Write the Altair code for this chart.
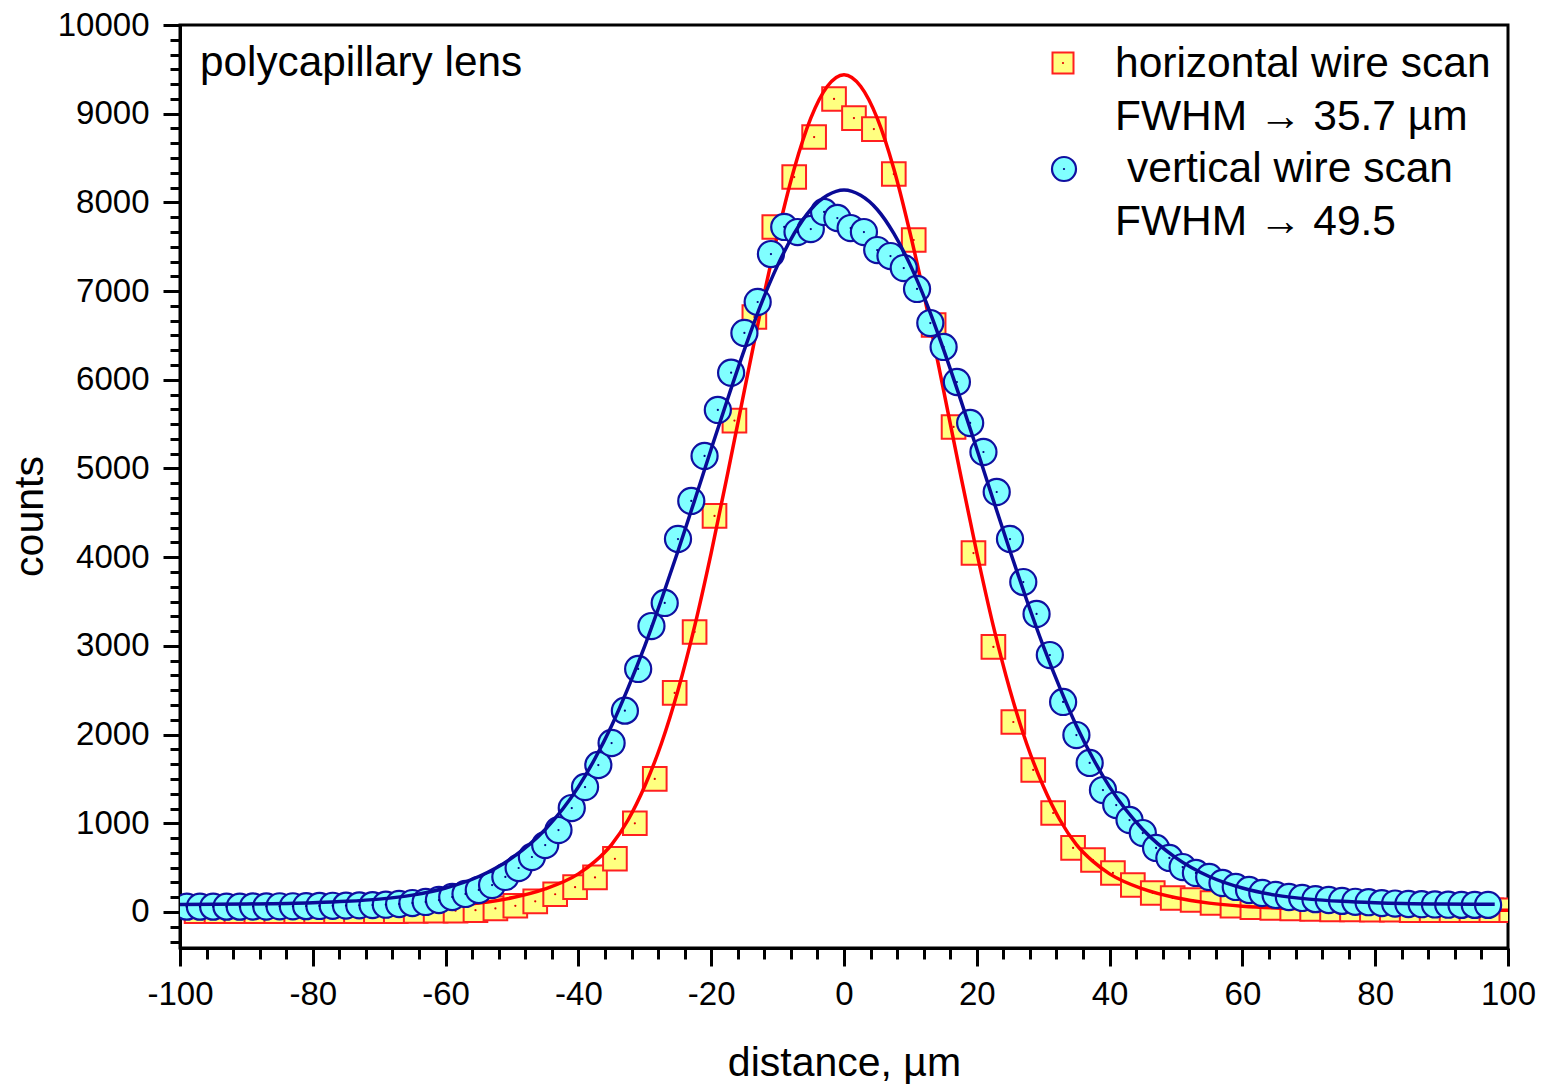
import altair as alt
import pandas as pd

FONT = "Liberation Sans"

# ---------------- data ----------------
# vertical wire scan (circles)
circle_x = list(range(-99, 98, 2))
circle_y = [60, 60, 60, 60, 60, 62, 62, 64, 64, 66, 68, 70, 72, 75, 78,
            82, 90, 101, 113, 135, 169, 203, 248, 304, 395,
            496, 620, 755, 924, 1172, 1409, 1657, 1905, 2270, 2740,
            3224, 3484, 4205, 4634, 5141, 5660, 6080, 6528, 6877, 7418,
            7723, 7666, 7700, 7892, 7824,
            7711, 7666, 7463, 7395, 7260,
            7024, 6640, 6370, 5975, 5513, 5186, 4735, 4205, 3720, 3360,
            2897, 2368, 1995, 1680, 1375, 1206, 1037, 890, 722, 609,
            507, 440, 395, 327, 282, 248, 214, 192, 169, 158,
            145, 135, 125, 115, 110, 100, 95, 90, 88, 85,
            82, 80, 80, 80]

# horizontal wire scan (squares)
square_x = [-97.5, -94.5, -91.5, -88.5, -85.5, -82.5, -79.5, -76.5, -73.5, -70.5,
            -67.5, -64.5, -61.5, -58.5, -55.5, -52.5, -49.5, -46.5, -43.5, -40.5,
            -37.5, -34.5, -31.5, -28.5, -25.5, -22.5, -19.5, -16.5, -13.5, -10.5,
            -7.5, -4.5, -1.5, 1.5, 4.5, 7.5, 10.5, 13.5, 16.5, 19.5,
            22.5, 25.5, 28.5, 31.5, 34.5, 37.5, 40.5, 43.5, 46.5, 49.5,
            52.5, 55.5, 58.5, 61.5, 64.5, 67.5, 70.5, 73.5, 76.5, 79.5,
            82.5, 85.5, 88.5, 91.5, 94.5, 97.5, 100.5]
square_y = [10, 10, 10, 10, 10, 10, 10, 10, 10, 10,
            10, 12, 15, 15, 20, 40, 70, 120, 200, 280,
            390, 600, 1000, 1500, 2470, 3157, 4465, 5540, 6708, 7723,
            8286, 8737, 9166, 8951, 8827, 8320, 7576, 6618, 5468, 4047,
            2988, 2142, 1601, 1116, 722, 586, 440, 304, 214, 158,
            135, 101, 70, 55, 45, 40, 35, 30, 30, 25,
            25, 20, 20, 20, 20, 20, 20]

# fitted curves
red_x = [-100, -90, -80, -70, -65, -60, -55, -50, -45, -40, -37.5, -35, -32.5, -30,
         -27.5, -25, -22.5, -20, -17.5, -15, -12.5, -10, -7.5, -5, -2.5, 0,
         2.5, 5, 7.5, 10, 12.5, 15, 17.5, 20, 22.5, 25, 27.5, 30, 32.5, 35,
         37.5, 40, 45, 50, 55, 60, 65, 70, 80, 90, 100]
red_y = [20, 20, 25, 35, 45, 65, 100, 160, 260, 430, 570, 760, 1040, 1420,
         1900, 2500, 3220, 4050, 4950, 5880, 6800, 7640, 8380, 8950, 9310, 9440,
         9310, 8950, 8380, 7640, 6800, 5880, 4950, 4050, 3220, 2500, 1900, 1420, 1040, 760,
         570, 430, 260, 160, 100, 65, 45, 35, 25, 20, 20]

blue_x = [-100, -90, -80, -75, -70, -65, -60, -55, -50, -45, -40, -37.5, -35, -32.5, -30,
          -27.5, -25, -22.5, -20, -17.5, -15, -12.5, -10, -7.5, -5, -2.5, 0,
          2.5, 5, 7.5, 10, 12.5, 15, 17.5, 20, 22.5, 25, 27.5, 30, 32.5, 35,
          37.5, 40, 45, 50, 55, 60, 65, 70, 75, 80, 90, 98]
blue_y = [85, 90, 105, 120, 145, 190, 270, 400, 610, 930, 1410, 1730, 2100, 2530, 3000,
          3520, 4070, 4640, 5220, 5790, 6340, 6850, 7290, 7650, 7920, 8080, 8140,
          8080, 7920, 7650, 7290, 6850, 6340, 5790, 5220, 4640, 4070, 3520, 3000, 2530, 2100,
          1730, 1410, 930, 610, 400, 270, 190, 145, 120, 105, 90, 86]

x_major = [-100, -80, -60, -40, -20, 0, 20, 40, 60, 80, 100]
y_major = [0, 1000, 2000, 3000, 4000, 5000, 6000, 7000, 8000, 9000, 10000]
x_minor = [v for v in range(-100, 101, 4) if v % 20 != 0]
y_minor = [k * 1000 / 6 for k in range(-2, 60) if k % 6 != 0]

X_DOMAIN = [-100, 100]
Y_DOMAIN = [-406, 10000]

sq_df = pd.DataFrame({"x": square_x, "y": square_y})
ci_df = pd.DataFrame({"x": circle_x, "y": circle_y})
red_df = pd.DataFrame({"x": red_x, "y": red_y})
blue_df = pd.DataFrame({"x": blue_x, "y": blue_y})
one = pd.DataFrame({"a": [0]})

x_scale = alt.Scale(domain=X_DOMAIN, nice=False, zero=False)
y_scale = alt.Scale(domain=Y_DOMAIN, nice=False, zero=False)

x_axis = alt.Axis(values=x_major, title="distance, µm", labelExpr="datum.value",
                  tickSize=18, tickWidth=3, domainWidth=3, labelFontSize=33,
                  titleFontSize=41, labelPadding=12, titleFontWeight="normal",
                  titleY=127, titleBaseline="alphabetic", grid=False,
                  labelFont=FONT, titleFont=FONT, domainColor="black",
                  tickColor="black", labelColor="black", titleColor="black",
                  labelFlush=False, labelOverlap=False)
y_axis = alt.Axis(values=y_major, title="counts", labelExpr="datum.value",
                  tickSize=17, tickWidth=3, domainWidth=3, labelFontSize=33,
                  titleFontSize=41, labelPadding=14, titleFontWeight="normal",
                  titleX=-129, titleY=491, grid=False,
                  labelFont=FONT, titleFont=FONT, domainColor="black",
                  tickColor="black", labelColor="black", titleColor="black",
                  labelFlush=False, labelOverlap=False)

X = alt.X("x:Q", scale=x_scale, axis=x_axis)
Y = alt.Y("y:Q", scale=y_scale, axis=y_axis)

squares = alt.Chart(sq_df).mark_point(shape="square", filled=True, size=560,
                                      fill="#FFFF80", stroke="#FF2020",
                                      strokeWidth=2, opacity=1, clip=True).encode(x=X, y=Y)
sq_dots = alt.Chart(sq_df).mark_circle(size=5, color="#E00000", opacity=1, clip=True).encode(x=X, y=Y)
red_line = alt.Chart(red_df).mark_line(color="#FF0000", strokeWidth=3.5,
                                       interpolate="monotone").encode(x=X, y=Y)
circles = alt.Chart(ci_df).mark_point(shape="circle", filled=True, size=680,
                                      fill="#80FFFF", stroke="#1010A0",
                                      strokeWidth=2.2, opacity=1, clip=True).encode(x=X, y=Y)
ci_dots = alt.Chart(ci_df).mark_circle(size=5, color="#000080", opacity=1, clip=True).encode(x=X, y=Y)
blue_line = alt.Chart(blue_df).mark_line(color="#0A0A96", strokeWidth=3.5,
                                         interpolate="monotone").encode(x=X, y=Y)

# legend & annotation
def txt(text, x, y, size=42.5):
    return alt.Chart(one).mark_text(text=text, font=FONT, fontSize=size, align="left",
                                    baseline="alphabetic", color="black").encode(
        x=alt.value(x), y=alt.value(y))

leg_sq = alt.Chart(one).mark_point(shape="square", filled=True, size=441, fill="#FFFF80",
                                   stroke="#FF2020", strokeWidth=2, opacity=1).encode(
    x=alt.value(883), y=alt.value(38))
leg_sq_dot = alt.Chart(one).mark_circle(size=5, color="#E00000", opacity=1).encode(
    x=alt.value(883), y=alt.value(38))
leg_ci = alt.Chart(one).mark_point(shape="circle", filled=True, size=576, fill="#80FFFF",
                                   stroke="#1010A0", strokeWidth=2.2, opacity=1).encode(
    x=alt.value(884), y=alt.value(144))
leg_ci_dot = alt.Chart(one).mark_circle(size=5, color="#000080", opacity=1).encode(
    x=alt.value(884), y=alt.value(144))

annotations = [
    txt("polycapillary lens", 20, 51, 42.3),
    txt("horizontal wire scan", 935, 52),
    txt("FWHM \u2192 35.7 \u00b5m", 935, 105),
    txt("vertical wire scan", 947, 157),
    txt("FWHM \u2192 49.5", 935, 210),
]

main = alt.layer(squares, sq_dots, red_line, circles, ci_dots, blue_line,
                 leg_sq, leg_sq_dot, leg_ci, leg_ci_dot, *annotations)

minor = alt.Chart(pd.DataFrame({"x": [0], "y": [0]})).mark_point(opacity=0).encode(
    x=alt.X("x:Q", scale=x_scale,
            axis=alt.Axis(values=x_minor, labels=False, tickSize=11, tickWidth=3,
                          domain=False, grid=False, title="", orient="bottom",
                          tickColor="black")),
    y=alt.Y("y:Q", scale=y_scale,
            axis=alt.Axis(values=y_minor, labels=False, tickSize=10, tickWidth=3,
                          domain=False, grid=False, title="", orient="left",
                          tickColor="black")),
)

chart = alt.layer(main, minor).resolve_scale(x="independent", y="independent").properties(
    width=1328, height=923,
    autosize=alt.AutoSizeParams(type="none"),
    padding={"left": 180, "top": 25, "right": 39, "bottom": 136},
    background="white",
).configure_view(stroke="black", strokeWidth=3)

chart.save("out.html", embed_options={"renderer": "svg", "actions": False})
